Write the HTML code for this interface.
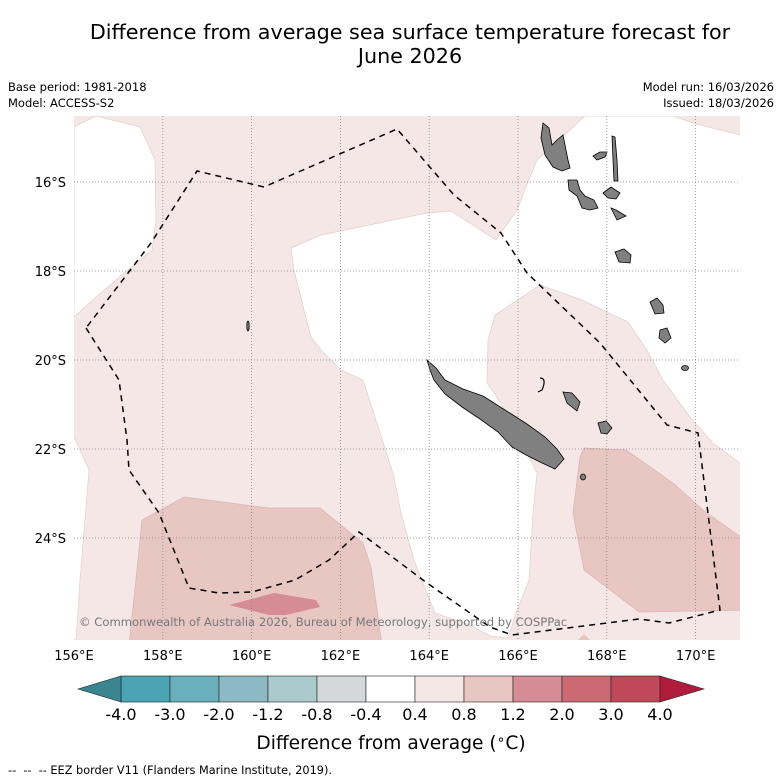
<!DOCTYPE html>
<html><head><meta charset="utf-8">
<style>
body{margin:0;background:#fff;width:781px;height:781px;overflow:hidden;font-family:"Liberation Sans","DejaVu Sans",sans-serif}
svg{display:block}
</style></head>
<body>
<svg id="fig" width="781" height="781" viewBox="0 0 781 781" font-family="DejaVu Sans, Liberation Sans, sans-serif">
<text x="410" y="39" text-anchor="middle" font-size="20.7" fill="#000">Difference from average sea surface temperature forecast for</text>
<text x="410" y="63" text-anchor="middle" font-size="20.7" fill="#000">June 2026</text>
<text x="8" y="91" font-size="11.5">Base period: 1981-2018</text>
<text x="8" y="107" font-size="11.5">Model: ACCESS-S2</text>
<text x="774" y="91" font-size="11.5" text-anchor="end">Model run: 16/03/2026</text>
<text x="774" y="107" font-size="11.5" text-anchor="end">Issued: 18/03/2026</text>
<defs><clipPath id="mc"><rect x="74" y="116" width="666" height="524"/></clipPath></defs>
<g clip-path="url(#mc)">
<rect x="74" y="116" width="666" height="524" fill="#f5e7e6"/>
<polygon fill="#fff" stroke="#e2cfcd" stroke-width="0.7" points="74,127 96,116 140,127 155,160 156,220 152,250 96,297 74,317"/>
<polygon fill="#fff" stroke="#e2cfcd" stroke-width="0.7" points="74,437 89,470 80,580 76,640 60,640 60,437"/>
<polygon fill="#fff" stroke="#e2cfcd" stroke-width="0.7" points="585,116 673,116 693,123 740,135 745,135 745,463 740,463 713,443 690,417 663,380 647,350 628,322 582,300 540,285 495,315 488,340 487,383 499,400 537,473 533,513 529,580 516,613 508,638 490,636 470,625 435,613 414,560 401,513 393,473 363,380 341,370 321,350 311,337 304,310 294,270 291,248 321,235 427,213 451,211 496,240 517,210 528,182 537,160"/>
<polygon fill="#e8c7c3" stroke="#d9b3af" stroke-width="0.7" points="184,497 142,520 138,560 129,645 382,645 371,567 363,543 320,508 269,508"/>
<polygon fill="#d68c94" points="229,605 274,593 316,600 320,607 286,615 269,615"/>
<polygon fill="#e8c7c3" stroke="#d9b3af" stroke-width="0.7" points="584,448 626,450 673,483 703,510 745,540 745,610 639,612 584,570 573,513 580,457"/>
<polygon fill="#e8c7c3" points="578,640 584,634 590,640"/>
<g fill="#808080" stroke="#000" stroke-width="0.8">
<polygon points="427,360 436,368 445,380 463,389 483,396 505,410 527,424 545,437 557,449 564,459 555,469 540,462 528,456 512,447 498,432 480,419 462,407 445,394 434,380 430,370"/>
<polygon points="543,123 549,128 552,145 557,140 563,135 566,150 568,160 570,168 562,171 553,167 545,155 541,138"/>
<polygon points="568,180 577,180 580,190 585,196 594,200 598,208 590,210 582,208 577,196 569,190"/>
<polygon points="593,156 600,152 607,152 605,157 597,160"/>
<polygon points="612,136 615,137 617,160 618,181 614,181 613,160"/>
<polygon points="603,193 611,187 620,193 616,199 608,198"/>
<polygon points="611,208 616,210 626,216 617,220"/>
<polygon points="615,252 624,249 631,255 630,263 619,262"/>
<polygon points="650,302 657,298 663,305 664,313 655,314"/>
<polygon points="660,330 667,328 671,338 665,343 659,338"/>
<polygon points="563,392 572,393 580,402 577,411 567,403"/>
<polygon points="598,423 606,421 612,428 607,434 601,433"/>
<ellipse cx="685" cy="368" rx="3.5" ry="2.5"/>
<ellipse cx="583" cy="477" rx="2.5" ry="3"/>
<ellipse cx="248" cy="326" rx="1.2" ry="5"/>
</g>
<path d="M540,378 Q547,378 542,390 L538,392" fill="none" stroke="#000" stroke-width="1.2"/>
<g stroke="#888" stroke-width="0.8" stroke-dasharray="1,2" id="grid"></g>
<polyline fill="none" stroke="#000" stroke-width="1.5" stroke-dasharray="6,5" points="86,328 119,380 127,440 129,470 159,513 189,588 219,593 252,592 295,580 329,560 359,532 427,583 490,627 512,635 639,619 669,623 720,610 698,433 667,425 600,343 527,273 501,233 454,195 397,129 264,187 197,171 151,243 86,328"/>
<text x="79" y="626" font-size="11.6" fill="#777">© Commonwealth of Australia 2026, Bureau of Meteorology, supported by COSPPac</text>
</g>
<g id="axes" font-size="13"></g>
<g id="cbar"></g>
<text x="391" y="749" text-anchor="middle" font-size="18.6">Difference from average (<tspan font-size="14" dy="-5">∘</tspan><tspan dy="5">C)</tspan></text>
<text x="8" y="774" font-size="11.3" xml:space="preserve">--  --  -- EEZ border V11 (Flanders Marine Institute, 2019).</text>
</svg>
<script>
const lonTicks=[156,158,160,162,164,166,168,170];
const latTicks=[16,18,20,22,24];
const cbBounds=[-4.0,-3.0,-2.0,-1.2,-0.8,-0.4,0.4,0.8,1.2,2.0,3.0,4.0];
const cbLabels=["-4.0","-3.0","-2.0","-1.2","-0.8","-0.4","0.4","0.8","1.2","2.0","3.0","4.0"];
const cbColors=["#4aa4b3","#6aafbc","#8cb9c3","#aacacd","#d4d8d8","#ffffff","#f5e7e6","#e8c7c3","#d68c94","#cc6a74","#c04858"];
const NS="http://www.w3.org/2000/svg";
function lonX(l){return 74+(l-156)*44.4;}
function latY(l){return 182+(l-16)*44.5;}
const grid=document.getElementById('grid'),axes=document.getElementById('axes');
function mk(tag,attrs,parent){const e=document.createElementNS(NS,tag);for(const k in attrs)e.setAttribute(k,attrs[k]);parent.appendChild(e);return e;}
lonTicks.forEach(l=>{
 if(l>156){const g=mk('line',{x1:lonX(l),x2:lonX(l),y1:116,y2:640},grid);
 
 }
 const t=mk('text',{x:lonX(l),y:660,'text-anchor':'middle'},axes);t.textContent=l+'°E';
 
 
});
latTicks.forEach(l=>{
 const g=mk('line',{x1:74,x2:740,y1:latY(l),y2:latY(l)},grid);
 
 
 const t=mk('text',{x:66,y:latY(l)+5,'text-anchor':'end'},axes);t.textContent=l+'°S';
 
 
});
const cb=document.getElementById('cbar');
const cx0=121,cw=49,cy=676,ch=26;
function cbX(i){return cx0+i*cw;}
cbColors.forEach((c,i)=>{
 const r=mk('rect',{x:cbX(i),y:cy,width:cw,height:ch,fill:c,stroke:'#222','stroke-width':0.6},cb);
 
 
});
const lo=mk('polygon',{points:`${cbX(0)},${cy} ${cbX(0)},${cy+ch} 78,${cy+ch/2}`,fill:'#3a8590',stroke:'#222','stroke-width':0.6},cb);


const n=cbColors.length;
const hi=mk('polygon',{points:`${cbX(n)},${cy} ${cbX(n)},${cy+ch} 704,${cy+ch/2}`,fill:'#b01d3c',stroke:'#222','stroke-width':0.6},cb);


cbBounds.forEach((b,i)=>{
 const t=mk('text',{x:cbX(i),y:720,'text-anchor':'middle','font-size':16},cb);t.textContent=cbLabels[i];
 
 
});
</script>
</body></html>
